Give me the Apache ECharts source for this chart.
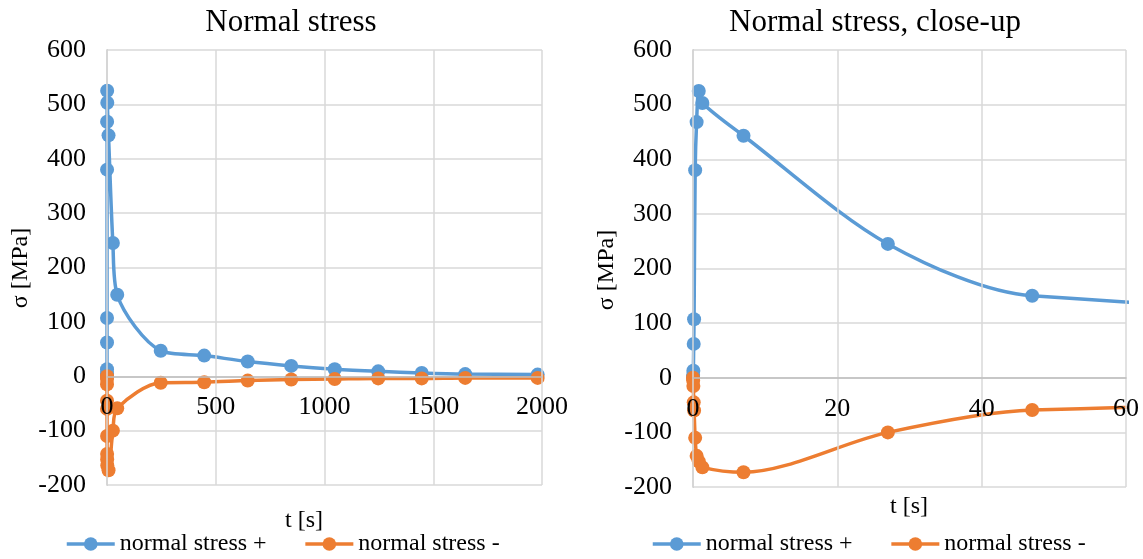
<!DOCTYPE html>
<html>
<head>
<meta charset="utf-8">
<script src="https://cdn.jsdelivr.net/npm/echarts@6/dist/echarts.min.js"></script>
<style>
html,body{margin:0;padding:0;background:#fff;}
#c{width:1143px;height:559px;}
</style>
</head>
<body>
<div id="c"></div>
<script>
// time [s]
var times = [0, 0.02, 0.05, 0.1, 0.15, 0.3, 0.5, 0.8, 1.3, 7, 27, 47, 247, 447, 647, 847, 1047, 1247, 1447, 1647, 1980];
// normal stress + [MPa]
var stressPlus = [0, 5, 13, 62, 107, 380, 468, 525, 503, 443, 245, 150, 47, 38, 27, 19, 13, 9, 6, 4, 3];
// normal stress - [MPa]
var stressMinus = [0, -5, -15, -45, -60, -110, -143, -153, -164, -173, -100, -59, -12, -11, -8, -6, -5, -4, -4, -3, -3];
var seriesNames = ['normal stress +', 'normal stress -'];
var chartTitles = ['Normal stress', 'Normal stress, close-up'];
var xAxisName = 't [s]';
var yAxisName = 'σ [MPa]';

var FONT = "'Liberation Serif', 'Times New Roman', serif";
var BLUE = '#5B9BD5', ORANGE = '#ED7D31';

function pairs(ys){ return times.map(function(t,i){ return [t, ys[i]]; }); }

function mkSeries(name, ys, color, idx){
  return {
    name: name, type: 'line', xAxisIndex: idx, yAxisIndex: idx,
    data: pairs(ys), smooth: 0.3, clip: true,
    symbol: 'circle', symbolSize: 14,
    itemStyle: {color: color},
    lineStyle: {color: color, width: 3.5},
    emphasis: {disabled: true}, animation: false, z: 2
  };
}

function yAx(idx){
  return {
    type: 'value', gridIndex: idx, min: -200, max: 600, interval: 100,
    axisLine: {show: true, onZero: false, lineStyle: {color: '#BFBFBF', width: 1.5}},
    axisTick: {show: false},
    axisLabel: {fontFamily: FONT, fontSize: 26, color: '#000', margin: 21},
    splitLine: {show: true, lineStyle: {color: '#D9D9D9', width: 1.5}}
  };
}
function xAx(idx, max, interval, off){
  return {
    type: 'value', gridIndex: idx, min: 0, max: max, interval: interval, z: 5,
    offset: off,
    axisLine: {show: true, onZero: false, lineStyle: {color: '#BFBFBF', width: 1.5}},
    axisTick: {show: false},
    axisLabel: {fontFamily: FONT, fontSize: 26, color: '#000', margin: 18,
                formatter: function(v){ return String(v); }},
    splitLine: {show: true, lineStyle: {color: '#D9D9D9', width: 1.5}}
  };
}
function legendAt(left){
  return {
    left: left, top: 532, padding: 0, itemWidth: 48, itemHeight: 17, itemGap: 37,
    lineStyle: {width: 3.5},
    textStyle: {fontFamily: FONT, fontSize: 24, color: '#000'},
    data: seriesNames, selectedMode: false
  };
}
function txt(x, y, s, size, rot){
  return {
    type: 'text', x: x, y: y, rotation: rot || 0, z: 10,
    style: {text: s, fontFamily: FONT, fontSize: size, fill: '#000',
            textAlign: 'center', textVerticalAlign: 'middle'}
  };
}

var chart = echarts.init(document.getElementById('c'));
chart.setOption({
  animation: false,
  backgroundColor: '#fff',
  grid: [
    {left: 107, top: 50, width: 435, height: 435},
    {left: 693, top: 50, width: 433, height: 437}
  ],
  xAxis: [xAx(0, 2000, 500, -108.75), xAx(1, 60, 20, -109.25)],
  yAxis: [yAx(0), yAx(1)],
  legend: [legendAt(65), legendAt(651)],
  series: [
    mkSeries(seriesNames[0], stressPlus, BLUE, 0),
    mkSeries(seriesNames[1], stressMinus, ORANGE, 0),
    mkSeries(seriesNames[0], stressPlus, BLUE, 1),
    mkSeries(seriesNames[1], stressMinus, ORANGE, 1)
  ],
  graphic: [
    txt(291, 23, chartTitles[0], 31),
    txt(875, 23, chartTitles[1], 31),
    txt(304, 521, xAxisName, 24),
    txt(909, 507, xAxisName, 24),
    txt(21, 268, yAxisName, 24, Math.PI/2),
    txt(607, 270, yAxisName, 24, Math.PI/2)
  ]
});
</script>
</body>
</html>
